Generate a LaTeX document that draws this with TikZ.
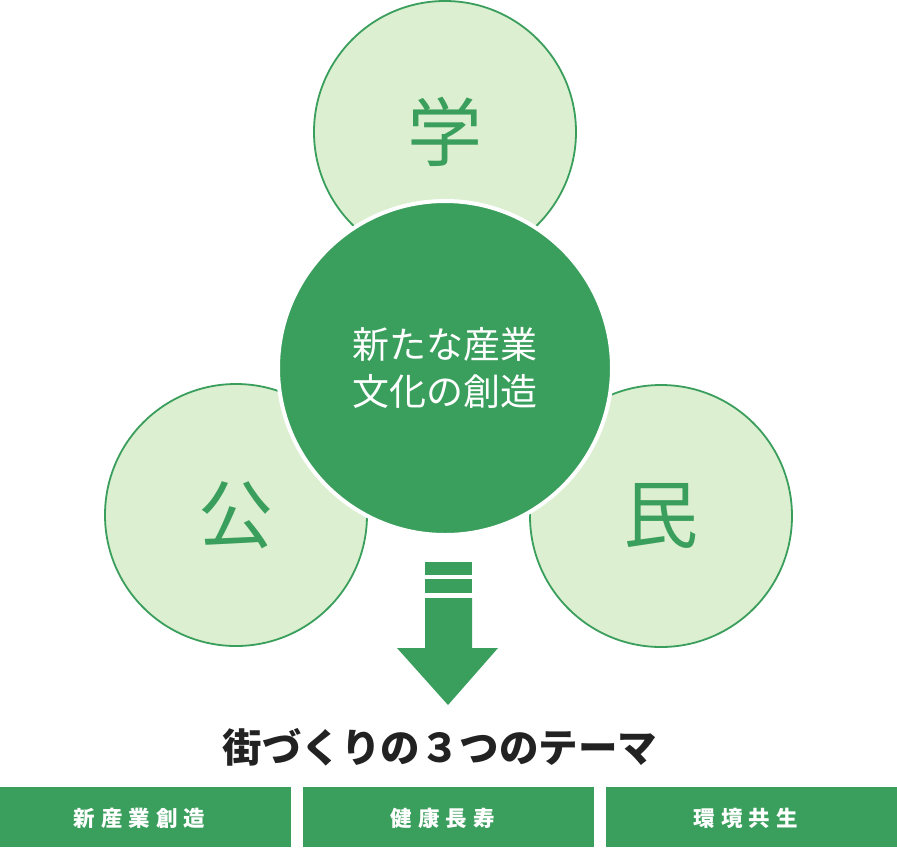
\documentclass[tikz,border=0pt]{standalone}
\usepackage{fontspec}
\setmainfont{Noto Sans CJK JP}
\definecolor{dg}{HTML}{3A9E5C}
\definecolor{lg}{HTML}{DCEFD0}
\definecolor{ink}{HTML}{222222}
\newcommand{\spc}{\kern6pt}
\begin{document}
\begin{tikzpicture}[x=1pt,y=-1pt,
  side/.style={circle, fill=lg, draw=dg, line width=1.8pt, minimum size=262pt, inner sep=0pt, text=dg, font=\fontsize{75}{75}\selectfont},
  core/.style={circle, fill=dg, draw=white, line width=4pt, minimum size=334pt, inner sep=0pt, text=white, font=\fontsize{37}{47}\selectfont, align=center},
  theme/.style={fill=dg, minimum width=291pt, minimum height=60pt, inner sep=0pt},
  themetext/.style={text=white, font=\fontsize{21.5}{21.5}\selectfont\bfseries, inner sep=0pt},
  title/.style={text=ink, font=\fontsize{39.5}{39.5}\selectfont\bfseries, inner sep=0pt}
]
\useasboundingbox (0,0) rectangle (897,847);
\fill[white] (0,0) rectangle (897,847);
% side circles
\node[side] (gaku) at (445,132) {学};
\node[side] (ko) at (236,515) {公};
\node[side] (min) at (661,516) {民};
% core circle
\node[core] (core) at (445,368) {新たな産業\\文化の創造};
% arrow
\fill[dg] (425,562) rectangle (472,575);
\fill[dg] (425,579) rectangle (472,593);
\fill[dg] (425,598) -- (472,598) -- (472,648) -- (498,648) -- (448,705) -- (397,648) -- (425,648) -- cycle;
% title
\node[title] (ttl) at (440,747) {街づくりの３つのテーマ};
% theme bars
\node[theme, anchor=north west] (b1) at (0,787) {};
\node[theme, anchor=north west] (b2) at (303,787) {};
\node[theme, anchor=north west] (b3) at (606,787) {};
\node[themetext] (t1) at ([xshift=-6pt,yshift=-1pt]b1.center) {新\spc 産\spc 業\spc 創\spc 造};
\node[themetext] (t2) at ([xshift=-6pt,yshift=-1pt]b2.center) {健\spc 康\spc 長\spc 寿};
\node[themetext] (t3) at ([xshift=-6pt,yshift=-1pt]b3.center) {環\spc 境\spc 共\spc 生};
\end{tikzpicture}
\end{document}
